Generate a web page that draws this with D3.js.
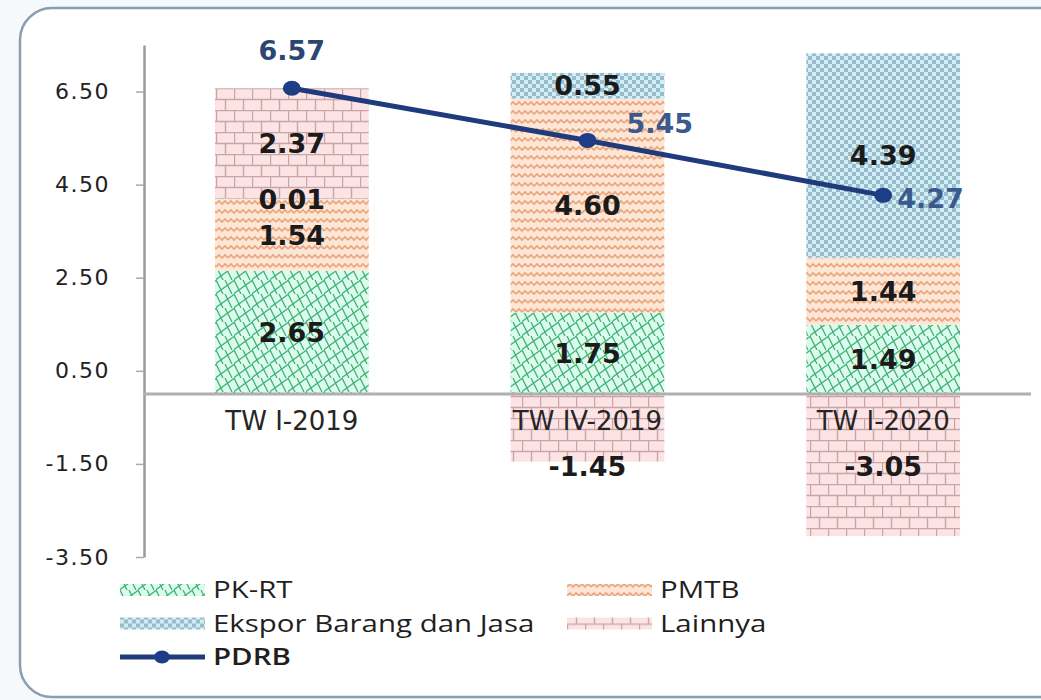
<!DOCTYPE html>
<html lang="id">
<head>
<meta charset="UTF-8">
<title>Kontribusi PDRB</title>
<script src="https://d3js.org/d3.v7.min.js"></script>
<style>
  body { margin: 0; background: #f6f9fb; }
  svg { display: block; }
</style>
</head>
<body>
<svg width="1041" height="700"></svg>
<script>
// data
const categories = ["TW I-2019", "TW IV-2019", "TW I-2020"];
const pkrt    = [2.65, 1.75, 1.49];
const pmtb    = [1.54, 4.60, 1.44];
const ekspor  = [0.01, 0.55, 4.39];
const lainnya = [2.37, -1.45, -3.05];
const pdrb    = [6.57, 5.45, 4.27];
const yTicks  = [-3.5, -1.5, 0.5, 2.5, 4.5, 6.5];
const seriesKeys = ["PK-RT", "PMTB", "Ekspor Barang dan Jasa", "Lainnya"];
const pdrbLabelSide = ["top", "topRight", "right"];

// hyphen instead of unicode minus, like the original
const fmt = v => d3.format(".2f")(v).replace("\u2212", "-");

const svg = d3.select("svg");
const defs = svg.append("defs");

// frame
svg.append("rect").attr("x", 20).attr("y", 8).attr("width", 1060).attr("height", 689)
  .attr("rx", 32).attr("fill", "#fff").attr("stroke", "#8b9db1").attr("stroke-width", 2.5);

// fill patterns (excel style)
function pattern(id, w, h, bg, draw) {
  const p = defs.append("pattern").attr("id", id).attr("patternUnits", "userSpaceOnUse")
    .attr("width", w).attr("height", h);
  p.append("rect").attr("width", w).attr("height", h).attr("fill", bg);
  draw(p);
}
pattern("pat-pkrt", 18, 14, "#dcfbee", p => {
  p.append("path").attr("d", "M-2,15 L20,-1 M0,0 L7,14 M9,0 L16,14")
    .attr("stroke", "#3fb373").attr("stroke-width", 1.3).attr("fill", "none");
});
pattern("pat-pmtb", 12, 9, "#fde6d5", p => {
  p.append("path").attr("d", "M0,6 L3,3 L6,6 L9,3 L12,6")
    .attr("stroke", "#e9a47c").attr("stroke-width", 1.6).attr("fill", "none");
});
pattern("pat-ekspor", 8, 8, "#d2edf5", p => {
  p.append("rect").attr("width", 4).attr("height", 4).attr("fill", "#97bccb");
  p.append("rect").attr("x", 4).attr("y", 4).attr("width", 4).attr("height", 4).attr("fill", "#97bccb");
});
pattern("pat-lain", 18, 22, "#fde4e4", p => {
  p.append("path").attr("d", "M0,0.5 H18 M0,11.5 H18 M0.5,0 V11 M9.5,11 V22")
    .attr("stroke", "#c9a4a8").attr("stroke-width", 1.4).attr("fill", "none");
});
const fills = {
  "PK-RT": "url(#pat-pkrt)",
  "PMTB": "url(#pat-pmtb)",
  "Ekspor Barang dan Jasa": "url(#pat-ekspor)",
  "Lainnya": "url(#pat-lain)"
};

const rows = categories.map((c, i) => ({
  cat: c,
  "PK-RT": pkrt[i],
  "PMTB": pmtb[i],
  "Ekspor Barang dan Jasa": ekspor[i],
  "Lainnya": lainnya[i]
}));

const x = d3.scaleBand().domain(categories).range([144, 1031])
  .paddingInner(0.48).paddingOuter(0.24);
const y = d3.scaleLinear().domain([-3.5, 7.5]).range([557, 45]);

const stacked = d3.stack().keys(seriesKeys).offset(d3.stackOffsetDiverging)(rows);

// bars
const layers = svg.append("g").selectAll("g").data(stacked).join("g")
  .attr("fill", d => fills[d.key]);
layers.selectAll("rect").data(d => d).join("rect")
  .attr("x", d => x(d.data.cat))
  .attr("width", x.bandwidth())
  .attr("y", d => y(Math.max(d[0], d[1])))
  .attr("height", d => Math.abs(y(d[0]) - y(d[1])));

// y axis
const yAxis = svg.append("g").attr("transform", "translate(144,0)")
  .call(d3.axisLeft(y).tickValues(yTicks).tickFormat(fmt)
    .tickSize(8).tickSizeOuter(0).tickPadding(26));
yAxis.select(".domain").attr("stroke", "#9a9a9a").attr("stroke-width", 2.5);
yAxis.selectAll(".tick line").attr("stroke", "#aaa").attr("stroke-width", 1.5);
yAxis.selectAll(".tick text")
  .attr("font-family", "DejaVu Sans").attr("font-size", 22)
  .attr("letter-spacing", 1.5).attr("fill", "#222");

// zero line
svg.append("line").attr("x1", 144).attr("x2", 1031)
  .attr("y1", y(0)).attr("y2", y(0))
  .attr("stroke", "#b0b0b0").attr("stroke-width", 3);

// category labels
svg.append("g").selectAll("text").data(categories).join("text")
  .attr("x", d => x(d) + x.bandwidth() / 2)
  .attr("y", y(0) + 36)
  .attr("text-anchor", "middle")
  .attr("font-family", "DejaVu Sans").attr("font-size", 26).attr("fill", "#262626")
  .text(d => d);

// segment labels
const segs = stacked.flatMap(layer => layer.map(d => ({
  v: d.data[layer.key], cat: d.data.cat, lo: d[0], hi: d[1]
})));
svg.append("g").selectAll("text").data(segs).join("text")
  .attr("x", d => x(d.cat) + x.bandwidth() / 2)
  .attr("y", d => {
    const mid = y((d.lo + d.hi) / 2);
    return d.v < 0 ? Math.max(mid, y(0) + 72) : mid;
  })
  .attr("dy", "0.36em")
  .attr("text-anchor", "middle")
  .attr("font-family", "DejaVu Sans").attr("font-weight", "bold")
  .attr("font-size", 27).attr("fill", "#1b1b1b")
  .text(d => fmt(d.v));

// PDRB line
const cx = c => x(c) + x.bandwidth() / 2;
const line = d3.line().x((d, i) => cx(categories[i])).y(d => y(d));
svg.append("path").datum(pdrb).attr("d", line)
  .attr("fill", "none").attr("stroke", "#1f3b7c").attr("stroke-width", 5);
svg.append("g").selectAll("ellipse").data(pdrb).join("ellipse")
  .attr("cx", (d, i) => cx(categories[i])).attr("cy", d => y(d))
  .attr("rx", 9).attr("ry", 7.5).attr("fill", "#1d3d86");

svg.append("g").selectAll("text").data(pdrb).join("text")
  .attr("x", (d, i) => {
    const s = pdrbLabelSide[i];
    return cx(categories[i]) + (s === "top" ? 0 : s === "topRight" ? 39 : 14);
  })
  .attr("y", (d, i) => {
    const s = pdrbLabelSide[i];
    return y(d) + (s === "top" ? -38 : s === "topRight" ? -17 : 3);
  })
  .attr("dy", "0.36em")
  .attr("text-anchor", (d, i) => pdrbLabelSide[i] === "top" ? "middle" : "start")
  .attr("font-family", "DejaVu Sans").attr("font-weight", "bold")
  .attr("font-size", 27).attr("fill", (d, i) => i === 0 ? "#2c4572" : "#3a5a8e")
  .text(d => fmt(d));

// legend
const legendItems = [
  { name: "PK-RT", col: 0, row: 0 },
  { name: "PMTB", col: 1, row: 0 },
  { name: "Ekspor Barang dan Jasa", col: 0, row: 1 },
  { name: "Lainnya", col: 1, row: 1 },
  { name: "PDRB", col: 0, row: 2 }
];
const lg = svg.append("g").selectAll("g").data(legendItems).join("g")
  .attr("transform", d => `translate(${d.col ? 567 : 120},${590 + d.row * 33.5})`);
lg.filter(d => d.name !== "PDRB").append("rect")
  .attr("y", -6).attr("width", 85).attr("height", 12)
  .attr("fill", d => fills[d.name]);
const pl = lg.filter(d => d.name === "PDRB");
pl.append("line").attr("x1", 0).attr("x2", 85).attr("stroke", "#1f3b7c").attr("stroke-width", 5);
pl.append("ellipse").attr("cx", 42).attr("rx", 8).attr("ry", 6.5).attr("fill", "#1d3d86");
lg.append("text")
  .attr("transform", "translate(93,0) scale(1.28,1)")
  .attr("dy", "0.36em")
  .attr("font-family", "Open Sans").attr("font-size", 23)
  .attr("font-weight", d => d.name === "PDRB" ? 600 : 400)
  .attr("fill", "#1f1f1f")
  .text(d => d.name);
</script>
</body>
</html>
